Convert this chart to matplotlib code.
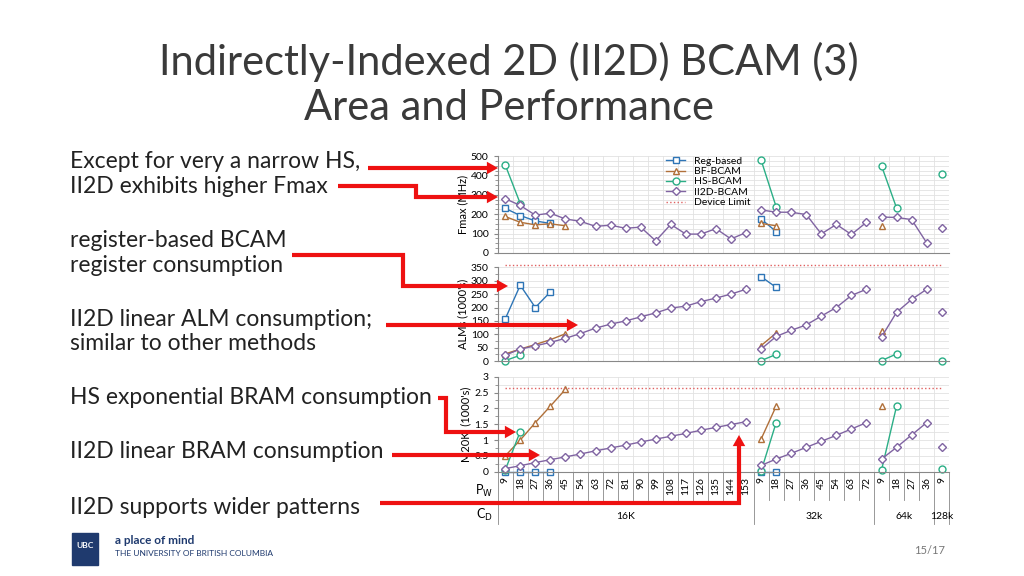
import numpy as np
import matplotlib.pyplot as plt
from matplotlib.transforms import blended_transform_factory
from matplotlib.ticker import MultipleLocator

plt.rcParams["font.family"] = "Lato"

# categories: port width P_W grouped by CAM depth C_D
groups = ["16K", "32k", "64k", "128k"]
pw_16k = [9, 18, 27, 36, 45, 54, 63, 72, 81, 90, 99, 108, 117, 126, 135, 144, 153]
pw_32k = [9, 18, 27, 36, 45, 54, 63, 72]
pw_64k = [9, 18, 27, 36]
pw_128k = [9]
pw_all = pw_16k + pw_32k + pw_64k + pw_128k

N = np.nan
# Fmax (MHz)
fmax_reg = [230, 193, 165, 152] + [N]*13 + [175, 110] + [N]*6 + [N]*4 + [N]
fmax_bf = [188, 158, 145, 150, 140] + [N]*12 + [152, 140] + [N]*6 + [140, N, N, N] + [N]
fmax_hs = [455, 255] + [N]*15 + [480, 238] + [N]*6 + [450, 232, N, N] + [405]
fmax_ii2d = [280, 245, 195, 205, 175, 163, 137, 143, 127, 133, 62, 147, 97, 97, 125, 72, 105] + \
            [222, 210, 210, 198, 98, 147, 95, 158] + [185, 183, 172, 52] + [128]
# ALMs (1000's)
alm_reg = [157, 283, 200, 258] + [N]*13 + [315, 275] + [N]*6 + [N]*4 + [N]
alm_bf = [27, 45, 62, 80, 102] + [N]*12 + [58, 105] + [N]*6 + [112, N, N, N] + [N]
alm_hs = [2, 22] + [N]*15 + [2, 25] + [N]*6 + [2, 27, N, N] + [2]
alm_ii2d = [22, 45, 57, 70, 85, 103, 123, 138, 150, 165, 180, 198, 205, 222, 235, 250, 268] + \
           [45, 92, 115, 135, 168, 200, 245, 268] + [90, 182, 230, 268] + [183]
alm_limit = 357
# M20K (1000's)
m20k_reg = [0, 0, 0, 0] + [N]*13 + [0, 0] + [N]*6 + [N]*4 + [N]
m20k_bf = [0.5, 1.0, 1.55, 2.07, 2.6] + [N]*12 + [1.03, 2.07] + [N]*6 + [2.07, N, N, N] + [N]
m20k_hs = [0.05, 1.27] + [N]*15 + [0.02, 1.55] + [N]*6 + [0.05, 2.07, N, N] + [0.1]
m20k_ii2d = [0.1, 0.19, 0.29, 0.38, 0.47, 0.56, 0.66, 0.75, 0.84, 0.94, 1.03, 1.12, 1.21, 1.31, 1.4, 1.49, 1.58] + \
            [0.2, 0.4, 0.58, 0.77, 0.96, 1.15, 1.35, 1.55] + [0.4, 0.77, 1.16, 1.55] + [0.77]
m20k_limit = 2.64

# split groups so lines don't connect across C_D
sizes = [len(pw_16k), len(pw_32k), len(pw_64k), len(pw_128k)]
bounds = np.cumsum([0] + sizes)

fig = plt.figure(figsize=(10.24, 5.76), dpi=100)

fig.text(0.497, 1 - 62/576, "Indirectly-Indexed 2D (II2D) BCAM (3)", ha="center", va="center",
         fontsize=30, color="#3a3a3a")
fig.text(0.497, 1 - 108/576, "Area and Performance", ha="center", va="center",
         fontsize=30, color="#3a3a3a")

L, W = 0.486, 0.441
ax1 = fig.add_axes([L, 0.561, W, 0.168])
ax2 = fig.add_axes([L, 0.373, W, 0.163])
ax3 = fig.add_axes([L, 0.181, W, 0.165])

styles = [("Reg-based", "#2E75B6", "s"), ("BF-BCAM", "#B0703A", "^"),
          ("HS-BCAM", "#2BAE86", "o"), ("II2D-BCAM", "#8064A2", "D")]
x = np.arange(len(pw_all))

def draw(ax, series, minor, limit=None):
    for (name, c, m), ys in zip(styles, series):
        ys = np.array(ys, dtype=float)
        for g in range(len(sizes)):
            s = slice(bounds[g], bounds[g+1])
            ax.plot(x[s], ys[s], color=c, marker=m, mfc="white", mec=c, clip_on=False,
                    ms=5 if m != "D" else 4, lw=1, label=name if g == 0 else None)
    if limit is not None:
        ax.plot([0, len(x)-1], [limit, limit], color="#E06060", ls=":", lw=1, clip_on=False)
    ax.set_xlim(-0.5, len(x)-0.5)
    ax.set_xticks(np.arange(-0.5, len(x), 1), minor=True)
    ax.set_xticks([])
    ax.yaxis.set_minor_locator(MultipleLocator(minor))
    ax.grid(True, which="minor", axis="x", color="#E2E2E2", lw=0.6)
    ax.grid(True, which="both", axis="y", color="#E2E2E2", lw=0.6)
    for sp in ["top", "right"]:
        ax.spines[sp].set_visible(False)
    ax.spines["bottom"].set_color("#888888")
    ax.spines["left"].set_color("#888888")
    ax.tick_params(axis="y", labelsize=7.5, length=3, color="#888888")
    ax.tick_params(axis="x", which="minor", length=0)
    ax.tick_params(axis="y", which="minor", length=2, color="#888888")

draw(ax1, [fmax_reg, fmax_bf, fmax_hs, fmax_ii2d], 25)
ax1.set_ylim(0, 500)
ax1.set_yticks(range(0, 501, 100))
ax1.set_ylabel("Fmax (MHz)", fontsize=8, labelpad=2)
ax1.plot([], [], color="#E06060", ls=":", lw=1, label="Device Limit")
ax1.legend(loc="upper left", bbox_to_anchor=(0.36, 1.06), fontsize=7.5, frameon=False,
           handlelength=1.8, labelspacing=0.1, borderpad=0.1)

draw(ax2, [alm_reg, alm_bf, alm_hs, alm_ii2d], 25, alm_limit)
ax2.set_ylim(0, 350)
ax2.set_yticks(range(0, 351, 50))
ax2.set_ylabel("ALMs (1000's)", fontsize=8, labelpad=2)

draw(ax3, [m20k_reg, m20k_bf, m20k_hs, m20k_ii2d], 0.25, m20k_limit)
ax3.set_ylim(0, 3)
ax3.set_yticks([0, 0.5, 1, 1.5, 2, 2.5, 3])
ax3.set_yticklabels(["0", "0.5", "1", "1.5", "2", "2.5", "3"])
ax3.set_ylabel("M20K  (1000's)", fontsize=8, labelpad=2)

# category axis labels
tr = blended_transform_factory(ax3.transData, ax3.transAxes)
for i, p in enumerate(pw_all):
    ax3.text(i, -0.06, str(p), rotation=90, ha="center", va="top", fontsize=7.5, transform=tr)
for i in range(len(x) + 1):
    isgrp = i in bounds
    ax3.plot([i-0.5, i-0.5], [0, -0.55 if isgrp else -0.3], color="#888888", lw=0.6,
             transform=tr, clip_on=False)
for g, name in enumerate(groups):
    ax3.text((bounds[g] + bounds[g+1] - 1) / 2, -0.47, name, ha="center", va="center",
             fontsize=7.5, transform=tr)
ax3.text(-1.4, -0.2, "P$_\\mathrm{W}$", ha="center", va="center", fontsize=9, transform=tr)
ax3.text(-1.4, -0.45, "C$_\\mathrm{D}$", ha="center", va="center", fontsize=9, transform=tr)

# left text
notes = [(161, "Except for very a narrow HS,"), (186, "II2D exhibits higher Fmax"),
         (240, "register-based BCAM"), (265, "register consumption"),
         (319, "II2D linear ALM consumption;"), (344, "similar to other methods"),
         (398, "HS exponential BRAM consumption"), (452, "II2D linear BRAM consumption"),
         (507, "II2D supports wider patterns")]
for yp, t in notes:
    fig.text(70/1024, 1 - yp/576, t, ha="left", va="center", fontsize=16.5, color="#222222")

# red arrows (figure pixel coordinates)
ov = fig.add_axes([0, 0, 1, 1], zorder=10)
ov.set_xlim(0, 1024)
ov.set_ylim(576, 0)
ov.axis("off")
arrows = [[(368, 168), (498, 168)],
          [(338, 186), (416, 186), (416, 197), (498, 197)],
          [(292, 255), (403, 255), (403, 286), (508, 286)],
          [(386, 325), (578, 325)],
          [(438, 398), (446, 398), (446, 432), (516, 432)],
          [(392, 455), (540, 455)],
          [(380, 503), (739, 503), (739, 435)]]
for pts in arrows:
    xs = [p[0] for p in pts]
    ys = [p[1] for p in pts]
    ov.plot(xs[:-1] + [xs[-1] - np.sign(xs[-1]-xs[-2])*8], ys[:-1] + [ys[-1] - np.sign(ys[-1]-ys[-2])*8],
            color="#EE1111", lw=3, solid_capstyle="butt", solid_joinstyle="miter")
    ov.annotate("", xy=pts[-1], xytext=pts[-2],
                arrowprops=dict(arrowstyle="-|>,head_width=0.45,head_length=0.8",
                                color="#EE1111", lw=0, shrinkA=0, shrinkB=0))

# footer
ov.add_patch(plt.Rectangle((72, 533), 26, 32, color="#1F3A6E"))
ov.text(85, 545, "UBC", color="white", fontsize=6, ha="center", va="center", weight="bold")
ov.text(115, 540, "a place of mind", fontsize=8.5, weight="bold", color="#1F3A6E", va="center")
ov.text(115, 553, "THE UNIVERSITY OF BRITISH COLUMBIA", fontsize=6, color="#1F3A6E", va="center")
ov.text(930, 550, "15/17", fontsize=8, color="#777777", va="center", ha="center")

fig.savefig("out.png", dpi=100)
